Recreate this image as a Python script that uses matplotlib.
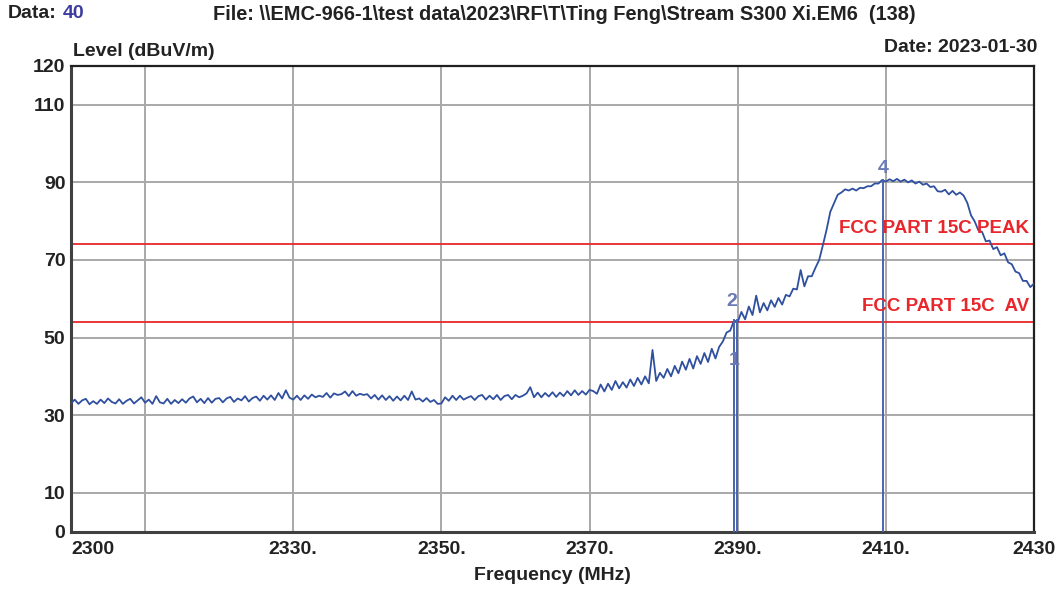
import matplotlib
matplotlib.use("Agg")
import matplotlib.pyplot as plt
import numpy as np

plt.rcParams['font.family'] = ['Liberation Sans', 'DejaVu Sans']

# ---------------- data ----------------
freq_start = 2300.0
freq_step = 0.5
level_2300 = [33.0, 34.0, 32.9, 33.8, 34.2, 32.8, 33.6, 32.9, 34.0, 33.1,
              34.3, 33.4, 33.0, 34.1, 32.9, 33.7, 34.2, 33.0, 33.8, 34.6]
level_2310 = [33.2, 34.0, 32.9, 34.9, 33.3, 33.0, 34.2, 32.9, 33.9, 33.1,
              34.1, 33.2, 34.3, 34.8, 33.3, 34.2, 33.1, 34.4, 33.2, 34.2]
level_2320 = [34.4, 33.3, 34.3, 34.7, 33.4, 34.3, 33.8, 34.9, 33.5, 34.4,
              34.8, 33.7, 35.0, 34.0, 35.1, 33.9, 35.7, 34.3, 36.4, 34.5]
level_2330 = [34.0, 35.0, 33.9, 35.1, 34.2, 35.3, 34.6, 35.0, 34.7, 35.7,
              34.5, 35.6, 35.2, 35.4, 36.1, 34.9, 36.2, 35.0, 35.5, 35.2]
level_2340 = [35.4, 34.3, 35.2, 34.0, 35.1, 33.9, 34.9, 33.7, 34.8, 33.8,
              35.0, 33.9, 36.1, 34.0, 34.3, 33.5, 34.4, 33.4, 33.9, 32.9]
level_2350 = [33.0, 34.6, 33.7, 35.0, 33.9, 35.0, 34.0, 34.5, 34.9, 33.9,
              34.9, 35.2, 34.0, 35.0, 34.1, 35.2, 33.9, 34.9, 35.2, 34.1]
level_2360 = [35.2, 34.6, 35.0, 35.6, 37.2, 34.6, 35.8, 34.6, 35.7, 34.8,
              35.9, 34.7, 35.8, 34.9, 36.2, 35.1, 36.4, 35.2, 36.2, 35.3]
level_2370 = [36.5, 36.2, 35.5, 37.9, 36.1, 38.1, 36.5, 38.8, 36.9, 38.5,
              37.1, 39.2, 37.5, 39.6, 37.9, 40.0, 38.2, 46.8, 38.8, 40.9]
level_2380 = [39.6, 41.9, 40.0, 42.7, 40.8, 43.8, 41.7, 44.5, 42.0, 45.2,
              43.2, 46.0, 43.7, 47.1, 44.6, 47.6, 49.0, 51.3, 51.8, 54.4]
level_2390 = [54.0, 56.6, 54.7, 58.0, 55.8, 60.8, 56.5, 58.9, 57.0, 59.6,
              57.9, 60.2, 58.5, 61.0, 60.6, 62.6, 62.4, 67.4, 63.2, 65.8]
level_2400 = [65.8, 68.0, 70.0, 73.8, 77.8, 82.4, 84.6, 86.8, 87.4, 88.2,
              87.9, 88.4, 87.9, 88.6, 88.5, 89.0, 89.0, 89.7, 89.7, 90.6]
level_2410 = [90.2, 90.8, 90.3, 90.9, 90.2, 90.7, 90.0, 90.5, 89.7, 90.2,
              89.4, 89.7, 88.8, 89.0, 87.7, 87.6, 88.1, 86.9, 87.8, 86.8]
level_2420 = [87.4, 86.6, 84.7, 81.5, 79.9, 77.6, 77.2, 74.8, 75.0, 72.8,
              73.3, 71.2, 71.7, 69.4, 68.9, 67.0, 66.6, 64.6, 64.6, 63.0, 63.9]

limit_names = ["FCC PART 15C PEAK", "FCC PART 15C  AV"]
limit_levels = [74, 54]

marker_ids = ["1", "2", "4"]
marker_freqs = [2389.5, 2389.95, 2409.6]
marker_levels = [54.6, 54.6, 90.7]

x_grid = [2310, 2330, 2350, 2370, 2390, 2410]
x_tick_vals = [2300, 2330, 2350, 2370, 2390, 2410, 2430]
x_tick_labels = ["2300", "2330.", "2350.", "2370.", "2390.", "2410.", "2430"]
y_grid = [10, 30, 50, 70, 90, 110]
y_tick_vals = [0, 10, 30, 50, 70, 90, 110, 120]

# ---------------- figure ----------------
levels = np.array(level_2300 + level_2310 + level_2320 + level_2330 + level_2340 +
                  level_2350 + level_2360 + level_2370 + level_2380 + level_2390 +
                  level_2400 + level_2410 + level_2420)
freqs = freq_start + freq_step * np.arange(len(levels))

fig = plt.figure(figsize=(10.55, 5.90), dpi=100)
ax = fig.add_axes([71/1055, 1 - 531.5/590, (1034-71)/1055, (531.5-66)/590])
ax.set_xlim(2300, 2430)
ax.set_ylim(0, 120)

text_col = '#222222'
grid_col = '#a8a8a8'
trace_col = '#2f4f9f'
marker_col = '#4a64ae'
marker_text_col = '#6a78b4'
red = '#e8262c'

for g in x_grid:
    ax.axvline(g, color=grid_col, lw=1.4, zorder=1)
for g in y_grid:
    ax.axhline(g, color=grid_col, lw=1.4, zorder=1)

for name, lv in zip(limit_names, limit_levels):
    ax.axhline(lv, color=red, lw=1.3, zorder=2)
    ax.annotate(name, xy=(2429.3, lv), xytext=(0, 5), textcoords='offset points',
                ha='right', va='bottom', color=red, fontsize=13.5, fontweight='bold', zorder=5)

ax.plot(freqs, levels, color=trace_col, lw=1.3, zorder=3)

for mid, mf, ml in zip(marker_ids, marker_freqs, marker_levels):
    ax.plot([mf, mf], [0, ml], color=marker_col, lw=1.4, zorder=4)

ax.annotate(marker_ids[0], xy=(marker_freqs[0], 44), ha='center', va='center',
            color=marker_text_col, fontsize=14, fontweight='bold', zorder=5)
ax.annotate(marker_ids[1], xy=(marker_freqs[1], marker_levels[1]), xytext=(-4, 7),
            textcoords='offset points', ha='center', va='bottom',
            color=marker_text_col, fontsize=14, fontweight='bold', zorder=5)
ax.annotate(marker_ids[2], xy=(marker_freqs[2], marker_levels[2]), xytext=(0, 2),
            textcoords='offset points', ha='center', va='bottom',
            color=marker_text_col, fontsize=14, fontweight='bold', zorder=5)

ax.set_xticks(x_tick_vals)
ax.set_xticklabels(x_tick_labels)
ax.set_yticks(y_tick_vals)
ax.tick_params(axis='y', length=0, pad=4, labelsize=14, colors=text_col)
ax.tick_params(axis='x', length=0, pad=7, labelsize=14, colors=text_col)
for lab in ax.get_xticklabels() + ax.get_yticklabels():
    lab.set_fontweight('bold')
ax.get_xticklabels()[0].set_horizontalalignment('left')

for side in ['left', 'bottom']:
    ax.spines[side].set_color('#404040')
    ax.spines[side].set_linewidth(2.2)
for side in ['top', 'right']:
    ax.spines[side].set_color('#202020')
    ax.spines[side].set_linewidth(1.6)

ax.set_xlabel("Frequency (MHz)", fontsize=14, fontweight='bold', color=text_col, labelpad=6)

fig.text(8/1055, 1 - 14/590, "Data:", fontsize=14, fontweight='bold', color=text_col, va='center', ha='left')
fig.text(63/1055, 1 - 14/590, "40", fontsize=14, fontweight='bold', color='#3c3ca0', va='center', ha='left')
fig.text(213/1055, 1 - 14/590, "File: \\\\EMC-966-1\\test data\\2023\\RF\\T\\Ting Feng\\Stream S300 Xi.EM6  (138)",
         fontsize=14.4, fontweight='bold', color=text_col, va='center', ha='left')
fig.text(73/1055, 1 - 51/590, "Level (dBuV/m)", fontsize=14, fontweight='bold', color=text_col, va='center', ha='left')
fig.text(1037/1055, 1 - 48/590, "Date: 2023-01-30", fontsize=14, fontweight='bold', color=text_col, va='center', ha='right')

fig.savefig("out.png", dpi=100)
